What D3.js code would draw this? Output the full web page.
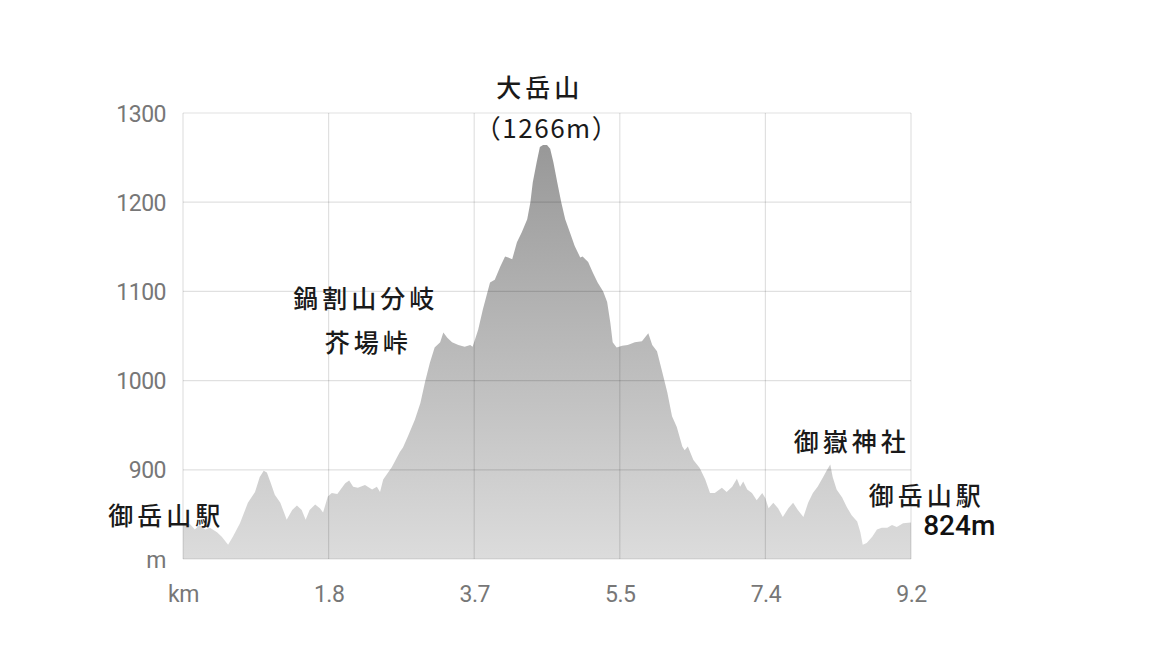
<!DOCTYPE html>
<html><head><meta charset="utf-8">
<script src="https://cdn.jsdelivr.net/npm/d3@7"></script>
<style>
html,body{margin:0;padding:0;background:#fff;}
svg{display:block;}
</style></head>
<body>
<svg id="chart" width="1152" height="648"></svg>
<script>
// ---- data ----
const distKm = [0.00,0.09,0.15,0.21,0.28,0.34,0.43,0.49,0.57,0.63,0.72,0.82,0.91,0.97,1.02,1.06,1.11,1.16,1.23,1.29,1.31,1.38,1.44,1.50,1.55,1.60,1.67,1.73,1.77,1.83,1.88,1.95,2.05,2.10,2.15,2.21,2.30,2.39,2.45,2.49,2.53,2.64,2.74,2.78,2.84,2.93,3.00,3.06,3.12,3.18,3.25,3.29,3.34,3.40,3.48,3.56,3.63,3.66,3.73,3.79,3.88,3.94,4.01,4.07,4.11,4.16,4.22,4.28,4.35,4.39,4.42,4.47,4.51,4.55,4.60,4.64,4.68,4.73,4.78,4.83,4.89,4.95,5.02,5.05,5.12,5.18,5.24,5.31,5.36,5.40,5.43,5.48,5.55,5.62,5.71,5.80,5.88,5.93,5.99,6.05,6.12,6.18,6.24,6.31,6.34,6.38,6.45,6.53,6.60,6.66,6.72,6.81,6.87,6.94,7.00,7.04,7.08,7.13,7.19,7.25,7.32,7.36,7.40,7.46,7.52,7.58,7.65,7.71,7.77,7.84,7.90,7.96,8.02,8.09,8.14,8.18,8.21,8.26,8.33,8.39,8.45,8.52,8.56,8.59,8.64,8.71,8.77,8.83,8.90,8.96,9.02,9.10,9.20];
const elevM = [840,839,833,838,833,835,830,825,816,825,840,863,875,892,899,897,885,872,863,849,844,855,860,855,844,855,861,857,852,870,874,873,885,888,881,880,883,878,881,875,889,903,920,925,937,956,975,999,1020,1037,1043,1054,1048,1043,1040,1038,1040,1038,1057,1080,1110,1113,1128,1139,1138,1136,1155,1166,1181,1200,1222,1245,1262,1264,1264,1260,1245,1222,1200,1181,1166,1151,1138,1139,1133,1121,1110,1100,1088,1065,1043,1037,1039,1040,1043,1044,1053,1040,1033,1012,987,960,948,926,922,926,911,902,889,874,874,880,875,881,890,881,887,878,874,866,874,868,857,863,857,847,857,863,855,847,863,874,881,892,900,906,892,878,869,858,849,842,830,816,818,825,833,835,835,838,836,840,841];

const yTickValues = [800,900,1000,1100,1200,1300];
const yTickLabels = ["m","900","1000","1100","1200","1300"];
const xTickValues = [0,1.84,3.68,5.52,7.36,9.2];
const xTickLabels = ["km","1.8","3.7","5.5","7.4","9.2"];

const annoText = ["大岳山","（1266m）","鍋割山分岐","芥場峠","御岳山駅","御嶽神社","御岳山駅"];
const annoKm   = [4.51,4.60,2.31,2.34,-0.21,8.45,9.40];
const annoM    = [1330,1285,1094,1044,851,933,873];
const endLabel = "824m";
const endKm = 9.81, endM = 838;

// ---- layout ----
const svg = d3.select("#chart");
const x = d3.scaleLinear().domain([0,9.2]).range([183,911]);
const y = d3.scaleLinear().domain([800,1300]).range([559,113]);

const defs = svg.append("defs");
const grad = defs.append("linearGradient").attr("id","fillGrad")
  .attr("gradientUnits","userSpaceOnUse")
  .attr("x1",0).attr("x2",0).attr("y1",y(1300)).attr("y2",y(800));
grad.append("stop").attr("offset","0%").attr("stop-color","#939393");
grad.append("stop").attr("offset","100%").attr("stop-color","#dcdcdc");

const pts = distKm.map((d,i)=>[d,elevM[i]]);
const area = d3.area().x(d=>x(d[0])).y0(y(800)).y1(d=>y(d[1]));
svg.append("path").datum(pts).attr("d",area).attr("fill","url(#fillGrad)");

// grid
const grid = svg.append("g");
grid.selectAll("line.h").data(yTickValues).join("line")
  .attr("x1",x(0)).attr("x2",x(9.2)).attr("y1",d=>y(d)).attr("y2",d=>y(d))
  .attr("stroke","rgba(0,0,0,0.12)").attr("stroke-width",1.2);
grid.selectAll("line.v").data(xTickValues).join("line")
  .attr("y1",y(1300)).attr("y2",y(800)).attr("x1",d=>x(d)).attr("x2",d=>x(d))
  .attr("stroke","rgba(0,0,0,0.12)").attr("stroke-width",1.2);

// axes
const yAxis = d3.axisLeft(y).tickValues(yTickValues)
  .tickFormat((d,i)=>yTickLabels[i]).tickSize(0).tickPadding(17);
const ya = svg.append("g").attr("transform",`translate(${x(0)},0)`).call(yAxis);
ya.select(".domain").remove();
ya.selectAll("text").attr("font-family","Roboto, sans-serif").attr("font-size",23)
  .attr("fill","#777").attr("dy","0.35em").attr("letter-spacing",-0.5);

const xAxis = d3.axisBottom(x).tickValues(xTickValues)
  .tickFormat((d,i)=>xTickLabels[i]).tickSize(0).tickPadding(27);
const xa = svg.append("g").attr("transform",`translate(0,${y(800)})`).call(xAxis);
xa.select(".domain").remove();
xa.selectAll("text").attr("font-family","Roboto, sans-serif").attr("font-size",23)
  .attr("fill","#777").attr("letter-spacing",-0.5);

// annotations
svg.append("g").selectAll("text").data(annoText).join("text")
  .attr("x",(d,i)=>x(annoKm[i])).attr("y",(d,i)=>y(annoM[i]))
  .attr("text-anchor","middle").attr("dominant-baseline","central")
  .attr("font-family","'Noto Sans CJK JP', sans-serif")
  .attr("font-weight",(d,i)=>i===1?400:500)
  .attr("font-size",(d,i)=>i===1?26:25)
  .attr("letter-spacing",(d,i)=>i===1?1.5:4)
  .attr("fill","#1a1a1a").text(d=>d);

svg.append("text").attr("x",x(endKm)).attr("y",y(endM))
  .attr("text-anchor","middle").attr("dominant-baseline","central")
  .attr("font-family","Roboto, sans-serif").attr("font-weight",500)
  .attr("font-size",28).attr("fill","#111").text(endLabel);
</script>
</body></html>
